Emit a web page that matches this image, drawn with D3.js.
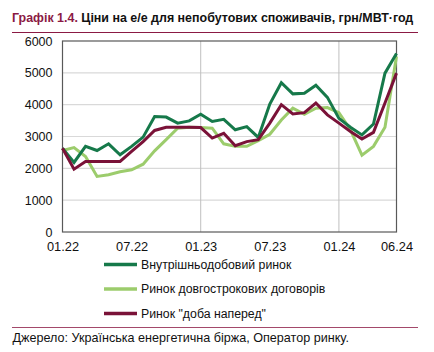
<!DOCTYPE html>
<html>
<head>
<meta charset="utf-8">
<script src="https://cdn.jsdelivr.net/npm/d3@7"></script>
<style>
  body { margin: 0; background: #fff; font-family: "Liberation Sans", Arial, sans-serif; }
  svg text { font-family: "Liberation Sans", Arial, sans-serif; }
</style>
</head>
<body>
<div id="chart"></div>
<script>
// months 01.22 .. 06.24
const months = d3.range(30).map(i => {
  let m = (i % 12) + 1, y = 22 + Math.floor(i / 12);
  return String(m).padStart(2, '0') + '.' + y;
});

const intraday = [2630, 2185, 2690, 2560, 2770, 2425, 2690, 2980, 3630, 3610, 3420, 3490,
  3700, 3470, 3540, 3210, 3310, 2970, 4020, 4690, 4340, 4360, 4610, 4230,
  3570, 3290, 3050, 3390, 4990, 5610];
const longTerm = [2560, 2650, 2370, 1745, 1800, 1890, 1955, 2130, 2550, 2900, 3260, 3290,
  3280, 3260, 2770, 2690, 2690, 2870, 3070, 3520, 3890, 3700, 3890, 3910,
  3750, 3210, 2415, 2690, 3290, 5510];
const dayAhead = [2630, 1975, 2215, 2215, 2215, 2215, 2530, 2840, 3190, 3290, 3290, 3290,
  3280, 2950, 3100, 2710, 2840, 2900, 3420, 4000, 3710, 3750, 4050, 3680,
  3420, 3160, 2920, 3130, 4050, 4990];

const xTickLabels = ['01.22', '07.22', '01.23', '07.23', '01.24', '06.24'];
const yTicks = [0, 1000, 2000, 3000, 4000, 5000, 6000];

const seriesNames = ['Внутрішньодобовий ринок', 'Ринок довгострокових договорів', 'Ринок "доба наперед"'];
const seriesColors = ['#16794a', '#9ccc6c', '#7a1238'];
const seriesData = [intraday, longTerm, dayAhead];

const W = 434, H = 352;
const margin = { left: 62.5, right: 37.5, top: 41, bottom: 120 };

const svg = d3.select('#chart').append('svg')
  .attr('width', W)
  .attr('height', H);

// title
let title = svg.append('text')
  .attr('x', 12)
  .attr('y', 21.5)
  .attr('font-size', 12.45)
  .attr('font-weight', 'bold');
title.append('tspan').attr('fill', '#8b1a44').text('Графік 1.4.');
title.append('tspan').attr('fill', '#111').text(' Ціни на е/е для непобутових споживачів, грн/МВТ·год');

svg.append('line')
  .attr('x1', 12).attr('x2', 418)
  .attr('y1', 32.5).attr('y2', 32.5)
  .attr('stroke', '#8b1a44').attr('stroke-width', 1);

const x = d3.scalePoint()
  .domain(months)
  .range([margin.left, W - margin.right]);

const y = d3.scaleLinear()
  .domain([0, 6000])
  .range([H - margin.bottom, margin.top]);

// horizontal grid
svg.append('g')
  .selectAll('line')
  .data(yTicks.filter(d => d > 0 && d < 6000))
  .enter().append('line')
  .attr('x1', margin.left).attr('x2', W - margin.right)
  .attr('y1', d => y(d)).attr('y2', d => y(d))
  .attr('stroke', '#d9d9d9').attr('stroke-width', 1.2);

// vertical grid at year starts
svg.append('g')
  .selectAll('line')
  .data(['01.23', '01.24'])
  .enter().append('line')
  .attr('x1', d => x(d)).attr('x2', d => x(d))
  .attr('y1', margin.top).attr('y2', H - margin.bottom)
  .attr('stroke', '#bfbfbf').attr('stroke-width', 1);

// frame
svg.append('rect')
  .attr('x', margin.left).attr('y', margin.top)
  .attr('width', W - margin.left - margin.right)
  .attr('height', H - margin.top - margin.bottom)
  .attr('fill', 'none')
  .attr('stroke', '#595959').attr('stroke-width', 1.2);

// y axis
let yAxis = svg.append('g')
  .attr('transform', `translate(${margin.left},0)`)
  .call(d3.axisLeft(y).tickValues(yTicks).tickFormat(d3.format('d')).tickSize(0).tickPadding(10));
yAxis.select('.domain').remove();
yAxis.selectAll('text').attr('font-size', 12.5).attr('fill', '#111');

// x axis
let xAxis = svg.append('g')
  .attr('transform', `translate(0,${H - margin.bottom})`)
  .call(d3.axisBottom(x).tickValues(xTickLabels).tickSize(0).tickPadding(10));
xAxis.select('.domain').remove();
xAxis.selectAll('text').attr('font-size', 12.8).attr('fill', '#111');

// lines
const line = d3.line()
  .x((d, i) => x(months[i]))
  .y(d => y(d));

svg.append('g')
  .selectAll('path')
  .data([1, 0, 2])
  .enter().append('path')
  .attr('d', k => line(seriesData[k]))
  .attr('fill', 'none')
  .attr('stroke', k => seriesColors[k])
  .attr('stroke-width', 3)
  .attr('stroke-linejoin', 'miter');

// legend
const legend = svg.append('g')
  .selectAll('g')
  .data(seriesNames)
  .enter().append('g')
  .attr('transform', (d, i) => `translate(104, ${264.5 + i * 24.5})`);

legend.append('line')
  .attr('x1', 0).attr('x2', 33)
  .attr('stroke', (d, i) => seriesColors[i])
  .attr('stroke-width', 3.5);

legend.append('text')
  .attr('x', 37)
  .attr('dy', '0.35em')
  .attr('font-size', 12.3)
  .attr('fill', '#111')
  .text(d => d);

// source
svg.append('line')
  .attr('x1', 12).attr('x2', 418)
  .attr('y1', 327.5).attr('y2', 327.5)
  .attr('stroke', '#8b1a44').attr('stroke-width', 0.8);

svg.append('text')
  .attr('x', 12.5)
  .attr('y', 341.5)
  .attr('font-size', 12.6)
  .attr('fill', '#111')
  .text('Джерело: Українська енергетична біржа, Оператор ринку.');
</script>
</body>
</html>
